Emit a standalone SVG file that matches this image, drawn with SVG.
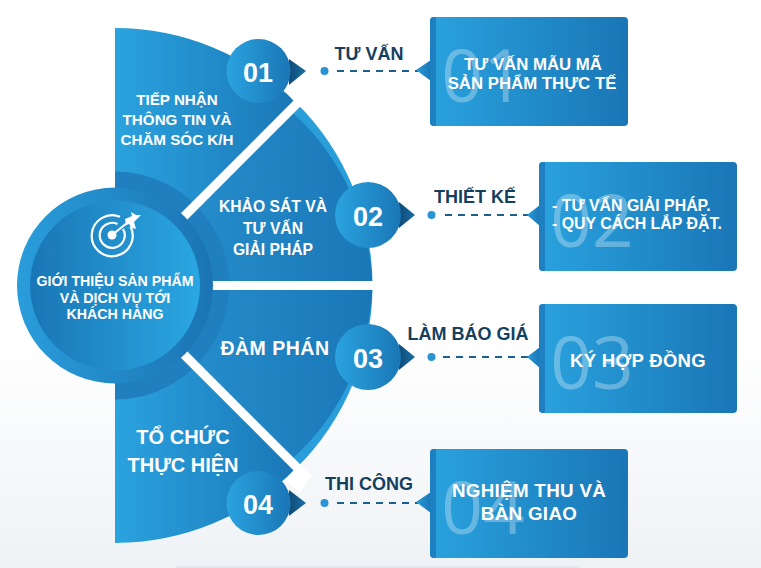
<svg xmlns="http://www.w3.org/2000/svg" width="761" height="568" viewBox="0 0 761 568">
<style>
.w{fill:#fff;font-family:"Liberation Sans",Arial,sans-serif;font-weight:700;text-anchor:middle}
.d{fill:#163f5e;font-family:"Liberation Sans",Arial,sans-serif;font-weight:700;font-size:18px;text-anchor:middle}
.n{fill:#fff;font-family:"Liberation Sans",Arial,sans-serif;font-weight:700;font-size:27px;text-anchor:middle}
.g{fill:#fff;fill-opacity:.3;font-family:"Open Sans",sans-serif;font-weight:400;font-size:73px;text-anchor:middle}
.dash{stroke:#1b5f8f;stroke-width:2;stroke-dasharray:7 6;fill:none}
.dot{fill:#2a93d2}
.tip{fill:url(#tipg)}
.stripe{fill:#1e80c0}
.gap{stroke:#fff;stroke-width:9;fill:none}
</style>
<defs>
<linearGradient id="bg" x1="0" y1="0" x2="0" y2="1"><stop offset="0" stop-color="#fff"/><stop offset=".6" stop-color="#fff"/><stop offset="1" stop-color="#eff2f5"/></linearGradient>
<linearGradient id="fan" x1="0" y1="0" x2="1" y2="0"><stop offset="0" stop-color="#2aa3df"/><stop offset="1" stop-color="#1a76b6"/></linearGradient>
<linearGradient id="fanm" x1="0" y1="0" x2="1" y2="0"><stop offset="0" stop-color="#2a95d3"/><stop offset="1" stop-color="#1a77b7"/></linearGradient>
<linearGradient id="box" x1="0" y1="0" x2="1" y2="0"><stop offset="0" stop-color="#29a2de"/><stop offset="1" stop-color="#1a76b6"/></linearGradient>
<linearGradient id="circ" x1="0" y1="0" x2="1" y2="0"><stop offset="0" stop-color="#2aa3df"/><stop offset="1" stop-color="#1a76b6"/></linearGradient>
<linearGradient id="outer" x1="0" y1="0" x2="1" y2="0"><stop offset="0" stop-color="#2a9ddb"/><stop offset="1" stop-color="#1b74b4"/></linearGradient>
<linearGradient id="inner" x1="0" y1="0" x2="1" y2="0"><stop offset="0" stop-color="#1a76b6"/><stop offset="1" stop-color="#2aa7e2"/></linearGradient>
<linearGradient id="arr" x1="0" y1="0" x2="1" y2="0"><stop offset="0" stop-color="#0f4a75"/><stop offset="1" stop-color="#1a6fa8"/></linearGradient>
<linearGradient id="tipg" x1="0" y1="0" x2="1" y2="0"><stop offset="0" stop-color="#2a9ddb"/><stop offset="1" stop-color="#1a76b6"/></linearGradient>
</defs>
<rect width="761" height="568" fill="url(#bg)"/>
<rect x="175" y="566" width="405" height="2" fill="#e3e8ee"/>

<g id="fan-sector-1">
<path d="M115 28A257.500 257.500 0 0 1 297 103.500L115 285.500Z" fill="url(#fan)"/>
<path d="M115 171.500A114 114 0 0 1 195.600 204.900L115 285.500Z" fill="#1f7fbf"/>
<path d="M285 91L300 78L312 96L298 106L293 100Z" fill="#fff"/>
<text class="w" font-size="15.200" x="177" y="105">TIẾP NHẬN</text>
<text class="w" font-size="15.200" x="177" y="125">THÔNG TIN VÀ</text>
<text class="w" font-size="15.200" x="177" y="145">CHĂM SÓC K/H</text>
</g>
<g id="fan-sector-2">
<path d="M297 103.500A257.500 257.500 0 0 1 372.500 285.500H115Z" fill="#2a9ddb"/>
<path d="M292 112A245 245 0 0 1 372.500 285.500H115Z" fill="url(#fanm)"/>
<path d="M195.600 204.900A114 114 0 0 1 229 285.500H115Z" fill="#1f7fbf"/>
<text class="w" font-size="15.700" x="273" y="212">KHẢO SÁT VÀ</text>
<text class="w" font-size="15.700" x="273" y="234">TƯ VẤN</text>
<text class="w" font-size="15.700" x="273" y="255">GIẢI PHÁP</text>
</g>
<g id="fan-sector-3">
<path d="M297 467.500A257.500 257.500 0 0 0 372.500 285.500H115Z" fill="#2a9ddb"/>
<path d="M292 459A245 245 0 0 0 372.500 285.500H115Z" fill="url(#fanm)"/>
<path d="M195.600 366.100A114 114 0 0 0 229 285.500H115Z" fill="#1f7fbf"/>
<text class="w" font-size="19.500" x="275" y="355" letter-spacing=".5">ĐÀM PHÁN</text>
</g>
<g id="fan-sector-4">
<path d="M115 543A257.500 257.500 0 0 0 297 467.500L115 285.500Z" fill="url(#fan)"/>
<path d="M115 399.500A114 114 0 0 0 195.600 366.100L115 285.500Z" fill="#1f7fbf"/>
<path d="M285 480L300 493L312 475L298 465L293 471Z" fill="#fff"/>
<text class="w" font-size="20" x="183" y="444">TỔ CHỨC</text>
<text class="w" font-size="20" x="183" y="472">THỰC HIỆN</text>
</g>
<g id="fan-dividers">
<path class="gap" d="M160 240.500L300 100.500"/>
<path class="gap" d="M160 330.500L300 470.500"/>
<path class="gap" d="M160 285.500H376"/>
</g>

<g id="center">
<circle cx="115" cy="285.500" r="98" fill="url(#outer)"/>
<circle cx="115" cy="285.500" r="85" fill="url(#inner)"/>
<g fill="none" stroke="#fff" stroke-width="2.200">
<path d="M130.500 226.500A20.500 20.500 0 1 1 120 216.800"/>
<path d="M123 229A12.500 12.500 0 1 1 117.500 224"/>
<path d="M112 235L132 219"/>
</g>
<path d="M127 217L134 214L133 210L138 213L143 213L136 220L138 227L134 226L131 222L128 223Z" fill="#fff" transform="translate(-2 2)"/>
<circle cx="112" cy="235" r="4.500" fill="#fff"/>
<text class="w" font-size="14.200" x="115" y="286">GIỚI THIỆU SẢN PHẨM</text>
<text class="w" font-size="14.200" x="115" y="303">VÀ DỊCH VỤ TỚI</text>
<text class="w" font-size="14.200" x="115" y="319">KHÁCH HÀNG</text>
</g>

<g id="connectors">
<path class="dash" d="M337 71H418"/>
<path class="dash" d="M445 215H529"/>
<path class="dash" d="M443 357H529"/>
<path class="dash" d="M337 503H418"/>
</g>

<g id="step-01">
<path d="M289 59L306 71L289 85Z" fill="url(#arr)"/>
<circle cx="258.500" cy="71" r="32" fill="url(#circ)"/>
<text class="n" x="258" y="82">01</text>
<circle class="dot" cx="324.500" cy="71" r="4"/>
<text class="d" x="369" y="60">TƯ VẤN</text>
<path class="tip" d="M416 70L431 60V81Z"/>
<rect x="430" y="17" width="198" height="109" rx="4" fill="url(#box)"/>
<path class="stripe" d="M434 17H436V126H434A4 4 0 0 1 430 122V21A4 4 0 0 1 434 17Z"/>
<text class="g" x="483" y="102">01</text>
<text class="w" font-size="16.800" x="533" y="70">TƯ VẤN MẪU MÃ</text>
<text class="w" font-size="16.800" x="532" y="89">SẢN PHẨM THỰC TẾ</text>
</g>
<g id="step-02">
<path d="M399 202L415 215L399 228Z" fill="url(#arr)"/>
<circle cx="368" cy="215" r="33" fill="url(#circ)"/>
<text class="n" x="368" y="226">02</text>
<circle class="dot" cx="431.500" cy="215" r="4"/>
<text class="d" x="475" y="203">THIẾT KẾ</text>
<path class="tip" d="M527 215L540 205V226Z"/>
<rect x="539" y="162" width="198" height="109" rx="4" fill="url(#box)"/>
<path class="stripe" d="M543 162H545V271H543A4 4 0 0 1 539 267V166A4 4 0 0 1 543 162Z"/>
<text class="g" x="592" y="247">02</text>
<text class="w" font-size="15.900" x="552" y="211" style="text-anchor:start">- TƯ VẤN GIẢI PHÁP.</text>
<text class="w" font-size="15.900" x="552" y="229" style="text-anchor:start">- QUY CÁCH LẮP ĐẶT.</text>
</g>
<g id="step-03">
<path d="M399 344L415 357L399 370Z" fill="url(#arr)"/>
<circle cx="368" cy="357" r="33" fill="url(#circ)"/>
<text class="n" x="368" y="368">03</text>
<circle class="dot" cx="431.500" cy="357" r="4"/>
<text class="d" x="468" y="340">LÀM BÁO GIÁ</text>
<path class="tip" d="M527 357L540 347V368Z"/>
<rect x="539" y="304" width="198" height="109" rx="4" fill="url(#box)"/>
<path class="stripe" d="M543 304H545V413H543A4 4 0 0 1 539 409V308A4 4 0 0 1 543 304Z"/>
<text class="g" x="592" y="389">03</text>
<text class="w" font-size="18.500" x="638" y="367" letter-spacing=".3">KÝ HỢP ĐỒNG</text>
</g>
<g id="step-04">
<path d="M289 490L306 503L289 516Z" fill="url(#arr)"/>
<circle cx="258.500" cy="503" r="32" fill="url(#circ)"/>
<text class="n" x="258" y="514">04</text>
<circle class="dot" cx="324.500" cy="503" r="4"/>
<text class="d" x="369" y="490">THI CÔNG</text>
<path class="tip" d="M416 502L431 492V513Z"/>
<rect x="430" y="449" width="198" height="109" rx="4" fill="url(#box)"/>
<path class="stripe" d="M434 449H436V558H434A4 4 0 0 1 430 554V453A4 4 0 0 1 434 449Z"/>
<text class="g" x="483" y="534">04</text>
<text class="w" font-size="18.800" x="529" y="497" letter-spacing=".3">NGHIỆM THU VÀ</text>
<text class="w" font-size="18.800" x="529" y="520" letter-spacing=".3">BÀN GIAO</text>
</g>
</svg>
